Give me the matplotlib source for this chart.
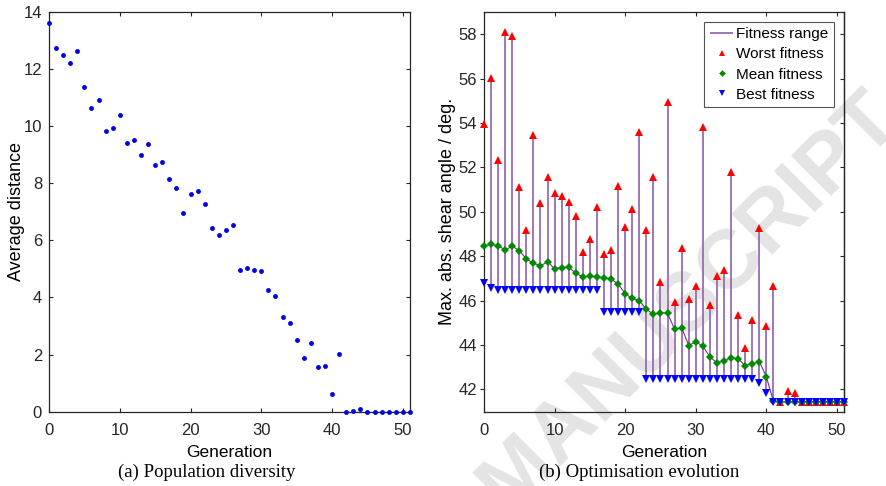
import matplotlib
matplotlib.use("Agg")
import matplotlib.pyplot as plt

# generation index
generations = list(range(52))

# (a) population diversity
avg_distance = [13.6, 12.75, 12.48, 12.2, 12.62, 11.37, 10.62, 10.91, 9.82, 9.94,
                10.4, 9.4, 9.52, 9.0, 9.36, 8.65, 8.74, 8.16, 7.82, 6.95,
                7.64, 7.72, 7.29, 6.45, 6.19, 6.35, 6.53, 4.97, 5.03, 4.95,
                4.93, 4.27, 4.05, 3.33, 3.09, 2.52, 1.87, 2.41, 1.56, 1.61,
                0.63, 2.01, 0.0, 0.04, 0.1, 0.0, 0.0, 0.0, 0.0, 0.0,
                0.0, 0.0]

# (b) optimisation evolution
worst_fitness = [53.95, 56.05, 52.34, 58.08, 57.9, 51.14, 49.19, 53.46, 50.42, 51.59,
                 50.87, 50.7, 50.46, 49.82, 48.2, 48.78, 50.24, 48.1, 48.28, 51.17,
                 49.33, 50.14, 53.59, 49.19, 51.59, 46.85, 54.93, 45.95, 48.39, 46.06,
                 46.67, 53.8, 45.8, 47.12, 47.38, 51.79, 45.34, 43.85, 45.13, 49.29,
                 44.87, 46.66, 41.45, 41.92, 41.85, 41.45, 41.45, 41.45, 41.45, 41.45,
                 41.45, 41.45]
mean_fitness = [48.48, 48.53, 48.48, 48.28, 48.46, 48.25, 47.88, 47.68, 47.56, 47.76,
                47.43, 47.49, 47.51, 47.23, 47.07, 47.1, 47.07, 47.04, 46.97, 46.76,
                46.31, 46.1, 46.0, 45.62, 45.38, 45.46, 45.43, 44.72, 44.78, 43.98,
                44.15, 43.95, 43.47, 43.2, 43.29, 43.44, 43.38, 43.08, 43.15, 43.26,
                42.57, 41.46, 41.45, 41.45, 41.45, 41.45, 41.45, 41.45, 41.45, 41.45,
                41.45, 41.45]
best_fitness = [46.78, 46.58, 46.48, 46.48, 46.48, 46.48, 46.48, 46.48, 46.48, 46.48,
                46.48, 46.48, 46.48, 46.48, 46.48, 46.48, 46.48, 45.5, 45.5, 45.5,
                45.5, 45.5, 45.5, 42.48, 42.48, 42.48, 42.48, 42.48, 42.48, 42.48,
                42.48, 42.48, 42.48, 42.48, 42.48, 42.48, 42.48, 42.48, 42.48, 42.27,
                41.86, 41.45, 41.45, 41.45, 41.45, 41.45, 41.45, 41.45, 41.45, 41.45,
                41.45, 41.45]

plt.rcParams["font.family"] = ["Liberation Sans", "DejaVu Sans"]
plt.rcParams["font.size"] = 12
spine_col = "#262626"

fig = plt.figure(figsize=(8.86, 4.86), dpi=100)

# faint watermark behind the plots
fig.text(1.02, 0.745, "ACCEPTED MANUSCRIPT", fontsize=60, fontweight="bold",
         color="#e4e4e4", rotation=45, rotation_mode="anchor",
         ha="right", va="baseline", zorder=0)

ax1 = fig.add_axes([0.0553, 0.1529, 0.4074, 0.8224], zorder=2)
ax2 = fig.add_axes([0.5463, 0.1529, 0.4063, 0.8224], zorder=2)
for ax in (ax1, ax2):
    ax.patch.set_alpha(0)
    for s in ax.spines.values():
        s.set_color(spine_col)
        s.set_linewidth(0.9)
    ax.tick_params(colors=spine_col, labelcolor="#262626", labelsize=12,
                   direction="in", top=True, right=True, length=3, width=0.8)
    ax.tick_params(axis="x", pad=8)

# (a)
ax1.plot(generations, avg_distance, "o", color="#0000e6", ms=3.5, mew=0,
         clip_on=False, zorder=3)
ax1.set_xlim(0, 51)
ax1.set_ylim(0, 14)
ax1.set_xticks(range(0, 51, 10))
ax1.set_yticks(range(0, 15, 2))
ax1.tick_params(axis="y", pad=5)
ax1.set_xlabel("Generation", fontsize=12.5, labelpad=5)
ax1.set_ylabel("Average distance", fontsize=13, labelpad=-1)

# (b)
ax2.vlines(generations, best_fitness, worst_fitness, color="#9a6cb2", lw=1.3,
           zorder=2, label="Fitness range")
ax2.plot(generations, mean_fitness, "-", color="#7e2f8e", lw=0.8, zorder=2)
ax2.plot(generations, worst_fitness, "^", color="#ff0000", ms=5.3, mew=0,
         zorder=3, label="Worst fitness", clip_on=False)
ax2.plot(generations, mean_fitness, "D", color="#008a00", ms=4, mew=0,
         zorder=4, label="Mean fitness", clip_on=False)
ax2.plot(generations, best_fitness, "v", color="#0000ff", ms=5.3, mew=0,
         zorder=5, label="Best fitness", clip_on=False)
ax2.set_xlim(0, 51)
ax2.set_ylim(41, 59)
ax2.set_xticks(range(0, 51, 10))
ax2.set_yticks(range(42, 59, 2))
ax2.tick_params(axis="y", direction="out", right=False, pad=2)
sec = ax2.secondary_yaxis("right")
sec.spines["right"].set_color(spine_col)
sec.spines["right"].set_linewidth(0.9)
sec.tick_params(direction="in", length=3, width=0.8, colors=spine_col,
                labelright=False)
ax2.set_xlabel("Generation", fontsize=12.5, labelpad=5)
ax2.set_ylabel("Max. abs. shear angle / deg.", fontsize=13, labelpad=2)
leg = ax2.legend(loc="upper right", fontsize=11, frameon=True, fancybox=False,
                 handlelength=1.55, handletextpad=0.2, borderpad=0.35,
                 labelspacing=0.4, borderaxespad=0.65, markerscale=0.85,
                 framealpha=1)
leg.get_frame().set_edgecolor("#555555")
leg.get_frame().set_linewidth(0.8)

# captions
fig.text(0.233, 0.019, "(a) Population diversity", fontsize=13.5,
         family=["Liberation Serif"], ha="center", va="baseline")
fig.text(0.721, 0.019, "(b) Optimisation evolution", fontsize=13.5,
         family=["Liberation Serif"], ha="center", va="baseline")

fig.savefig("out.png", dpi=100)
